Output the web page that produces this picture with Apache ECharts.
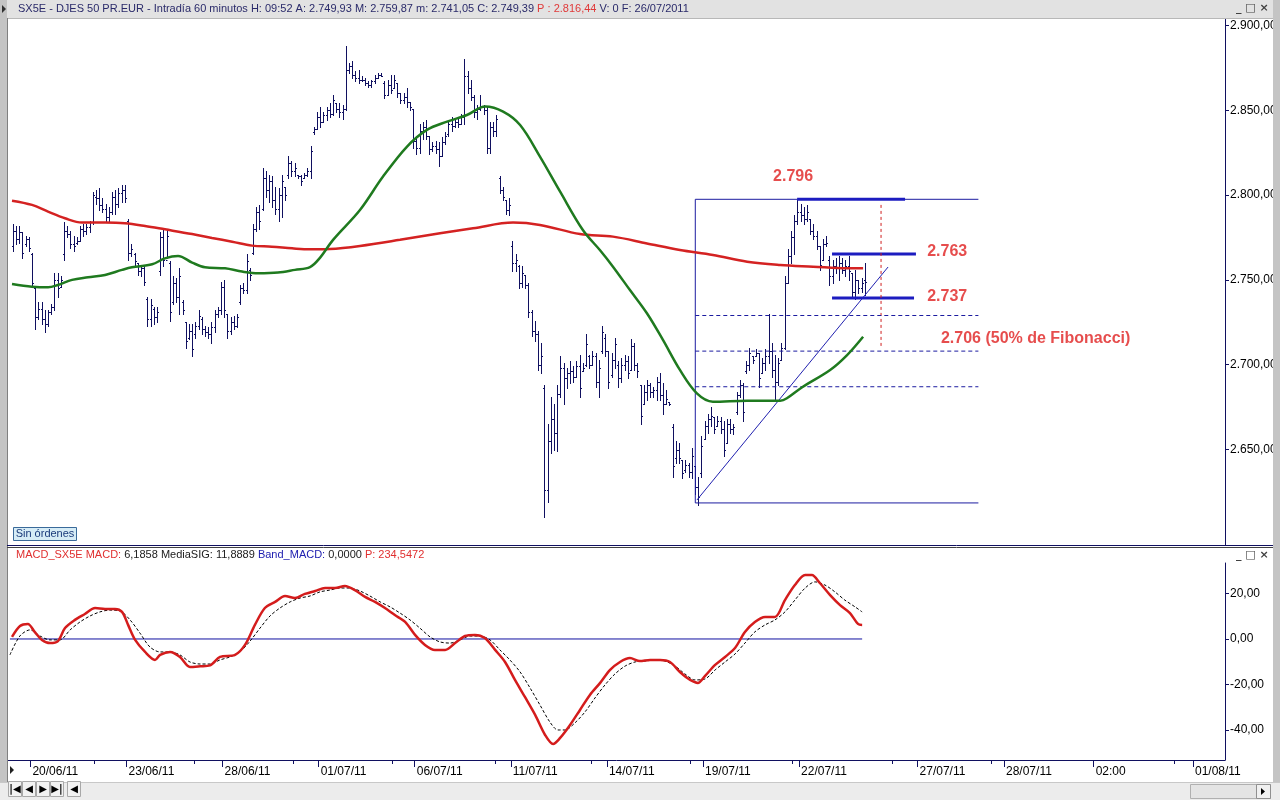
<!DOCTYPE html>
<html><head><meta charset="utf-8">
<script src="https://cdn.jsdelivr.net/npm/echarts/dist/echarts.min.js"></script>
<style>html,body{margin:0;padding:0;background:#fff}#c{width:1280px;height:800px}</style>
</head><body><div id="c"></div><script>
// ---------- DATA ----------
// hourly bars (10 per trading day), bar k is centred on time index k + 1.5
const opens = [2770,2779,2774,2778,2771,2774,2765,2745,2728,2733,
2727,2724,2731,2734,2750,2746,2765,2779,2777,2771,
2772,2773,2780,2779,2781,2784,2799,2798,2794,2792,
2787,2790,2799,2795,2801,2803,2785,2766,2765,2760,
2755,2757,2739,2727,2733,2728,2755,2775,2762,2760,
2737,2748,2740,2737,2725,2716,2720,2718,2723,2727,
2721,2719,2718,2722,2730,2732,2746,2730,2720,2725,
2723,2737,2745,2744,2756,2766,2780,2790,2792,2810,
2803,2808,2797,2792,2800,2805,2812,2819,2814,2812,
2811,2810,2812,2814,2837,2839,2846,2843,2847,2850,
2848,2854,2851,2849,2851,2874,2876,2871,2869,2868,
2868,2866,2865,2867,2869,2871,2866,2859,2865,2863,
2866,2860,2856,2858,2855,2851,2832,2828,2838,2840,
2835,2827,2829,2827,2823,2831,2836,2842,2841,2843,
2842,2846,2870,2863,2858,2849,2851,2852,2850,2828,
2840,2838,2810,2803,2797,2791,2770,2760,2758,2748,
2753,2747,2731,2720,2718,2700,2686,2626,2655,2668,
2660,2683,2698,2692,2695,2696,2693,2699,2696,2700,
2705,2700,2705,2690,2708,2716,2708,2694,2703,2700,
2692,2700,2702,2697,2711,2700,2688,2677,2684,2688,
2684,2685,2690,2682,2677,2678,2663,2645,2650,2644,
2638,2641,2637,2640,2628,2636,2656,2664,2668,2669,
2664,2667,2662,2654,2665,2662,2672,2682,2688,2696,
2700,2705,2705,2707,2695,2701,2705,2708,2697,2690,
2703,2710,2748,2764,2775,2785,2790,2788,2786,2786,
2779,2776,2770,2762,2771,2762,2752,2758,2757,2760,
2756,2758,2754,2743,2750,2745,2750];
const highs = [2783,2782,2782,2778,2776,2775,2766,2745,2737,2737,
2732,2732,2736,2754,2754,2752,2784,2782,2779,2776,
2775,2782,2783,2783,2785,2802,2803,2804,2798,2795,
2793,2802,2803,2804,2806,2806,2786,2771,2766,2760,
2759,2758,2740,2739,2734,2734,2778,2780,2780,2761,
2752,2751,2757,2738,2725,2724,2724,2725,2732,2728,
2723,2722,2725,2732,2734,2749,2750,2730,2728,2729,
2730,2747,2748,2765,2757,2783,2793,2794,2816,2814,
2812,2811,2805,2804,2812,2805,2823,2820,2819,2812,
2812,2813,2816,2829,2840,2849,2852,2849,2852,2854,
2859,2854,2854,2853,2888,2878,2879,2873,2874,2870,
2869,2867,2868,2871,2872,2872,2867,2868,2871,2871,
2866,2860,2860,2863,2855,2851,2835,2842,2843,2844,
2835,2831,2832,2831,2834,2837,2844,2846,2845,2845,
2848,2880,2873,2868,2859,2853,2859,2853,2852,2843,
2843,2847,2811,2805,2797,2798,2773,2765,2759,2758,
2753,2748,2732,2726,2720,2713,2688,2665,2681,2677,
2688,2705,2701,2698,2702,2699,2702,2706,2701,2718,
2706,2708,2707,2703,2723,2718,2708,2707,2716,2702,
2704,2706,2705,2715,2713,2701,2688,2688,2691,2689,
2687,2693,2695,2689,2685,2678,2665,2655,2654,2644,
2644,2642,2651,2640,2634,2658,2667,2671,2675,2669,
2670,2669,2667,2668,2668,2665,2684,2691,2689,2702,
2710,2705,2709,2707,2704,2709,2730,2713,2706,2704,
2713,2752,2768,2779,2788,2797,2795,2793,2794,2786,
2783,2779,2770,2774,2776,2764,2762,2763,2764,2763,
2762,2764,2754,2756,2750,2751,2760];
const lows = [2767,2771,2772,2763,2770,2767,2746,2721,2727,2724,
2719,2723,2730,2732,2740,2746,2762,2775,2769,2767,
2771,2773,2776,2777,2778,2783,2795,2791,2790,2784,
2784,2789,2789,2793,2796,2796,2762,2764,2759,2753,
2752,2747,2723,2723,2724,2725,2753,2758,2763,2726,
2736,2737,2730,2730,2710,2715,2705,2716,2721,2718,
2717,2716,2713,2719,2728,2730,2728,2716,2718,2721,
2722,2736,2742,2742,2750,2765,2779,2780,2791,2799,
2796,2793,2789,2785,2787,2797,2810,2811,2811,2810,
2806,2810,2811,2810,2836,2839,2840,2843,2844,2846,
2847,2849,2846,2845,2850,2872,2869,2867,2866,2867,
2865,2864,2864,2866,2869,2870,2857,2859,2860,2863,
2858,2854,2854,2852,2850,2828,2824,2825,2833,2833,
2824,2826,2825,2817,2823,2830,2835,2838,2840,2840,
2842,2842,2860,2856,2846,2845,2850,2848,2825,2825,
2835,2835,2801,2797,2789,2788,2755,2755,2745,2746,
2745,2728,2717,2714,2697,2695,2610,2619,2648,2650,
2649,2681,2677,2686,2689,2690,2693,2681,2696,2699,
2698,2700,2687,2681,2707,2705,2686,2693,2698,2687,
2690,2697,2692,2697,2697,2693,2665,2677,2679,2681,
2681,2679,2679,2671,2677,2676,2634,2642,2642,2633,
2637,2634,2633,2624,2617,2634,2656,2660,2664,2660,
2664,2660,2646,2654,2660,2659,2671,2681,2667,2695,
2697,2701,2705,2687,2695,2697,2701,2693,2679,2688,
2703,2709,2748,2760,2765,2783,2785,2783,2785,2777,
2774,2768,2756,2762,2770,2747,2748,2754,2750,2754,
2752,2750,2740,2739,2742,2743,2741];
const closes = [2779,2774,2778,2766,2774,2769,2748,2728,2733,2727,
2724,2731,2734,2750,2745,2750,2779,2777,2771,2770,
2773,2780,2779,2781,2784,2800,2798,2794,2792,2787,
2790,2799,2795,2801,2803,2798,2766,2768,2761,2755,
2757,2749,2727,2735,2728,2731,2775,2762,2776,2731,
2748,2740,2752,2732,2714,2720,2709,2723,2729,2721,
2719,2718,2722,2730,2732,2746,2732,2720,2725,2723,
2728,2745,2744,2761,2753,2780,2790,2785,2810,2803,
2808,2797,2792,2800,2808,2800,2819,2814,2816,2811,
2808,2812,2814,2826,2839,2846,2843,2847,2850,2848,
2856,2851,2849,2851,2874,2876,2871,2869,2868,2868,
2866,2865,2867,2869,2871,2870,2859,2865,2862,2868,
2860,2856,2858,2855,2852,2832,2828,2838,2840,2835,
2827,2829,2827,2823,2831,2835,2842,2841,2843,2842,
2846,2870,2863,2858,2849,2851,2852,2850,2828,2840,
2838,2845,2803,2799,2791,2794,2760,2762,2748,2754,
2747,2731,2720,2718,2700,2705,2626,2655,2668,2660,
2683,2698,2692,2695,2696,2693,2699,2686,2698,2712,
2700,2705,2690,2698,2719,2708,2690,2703,2712,2692,
2700,2702,2695,2711,2700,2696,2670,2684,2688,2684,
2685,2690,2682,2677,2680,2677,2640,2650,2645,2636,
2641,2637,2646,2628,2622,2652,2664,2668,2670,2662,
2667,2662,2650,2665,2662,2663,2682,2688,2672,2700,
2707,2703,2707,2692,2701,2705,2708,2697,2690,2701,
2710,2748,2764,2775,2785,2790,2788,2786,2790,2779,
2776,2770,2759,2771,2772,2752,2758,2757,2760,2756,
2758,2755,2743,2750,2745,2748,2749];

// moving averages: [time index, value]
const maSlow = [[1.25,2796.7],[7.5,2794.2],[12.5,2790.2],[17.8,2786.3],[23.1,2783.8],[30.3,2783.8],[36.5,2783.4],[42.8,2781.8],[49,2779.8],[57.5,2777],[63.7,2774.7],[70,2772.5],[76.2,2770.2],[82.4,2769.6],[88.7,2768.6],[94.3,2768],[100.5,2768.2],[109.9,2770],[122.4,2773.6],[134.9,2777.5],[145.2,2780.4],[157.7,2783.8],[166.1,2782.4],[178.6,2777],[188.9,2775.5],[199.5,2771.5],[209.8,2767.6],[220.1,2764.7],[230.8,2760.7],[241.1,2758.8],[251.4,2757.8],[262,2756.8],[267,2756.8]];
const maFast = [[1.25,2747.6],[7.5,2746],[12.5,2745.6],[15.6,2747],[20,2750],[25,2751.5],[30.3,2752.9],[35.6,2755.9],[38.7,2757.4],[45,2759.2],[49,2762.7],[53.1,2764.1],[57.5,2760.2],[61.5,2757.4],[67.8,2756.8],[73.1,2754.9],[78.1,2753.9],[84.3,2754.3],[89.6,2755.9],[94.3,2757.5],[97.4,2763],[101.5,2773.6],[109.9,2791.2],[117.1,2810.9],[124.6,2828.6],[130.8,2838.4],[137.1,2843.3],[143.3,2847.2],[149,2852.2],[154.6,2849.2],[159.9,2841.3],[166.1,2822.7],[172.4,2802],[179.5,2779.4],[184.8,2767.6],[188.9,2757.8],[194.2,2744],[199.5,2730.3],[204.5,2714.6],[209.8,2696.9],[215.1,2683.1],[220.1,2678.2],[230.8,2678.8],[241.1,2678.8],[243.2,2680.2],[248.2,2687],[256.7,2696.9],[262,2705.7],[267,2716.5]];

// MACD panel: [time index, value]
const macdLine = [[1.25,0.9],[3.75,5.7],[6.2,6.6],[8.4,3],[10.6,-0.4],[13.1,-1.8],[15.6,-0.9],[17.8,4.8],[20.9,8.4],[24,11],[27.2,13.6],[30.3,13.2],[33.4,13.2],[35.6,11.9],[37.5,6.2],[39.7,-0.4],[42.8,-5.7],[45.9,-9.2],[47.5,-7],[50.6,-5.7],[53.7,-7.9],[56.8,-12.3],[60,-12],[63.1,-11.6],[66.2,-7.9],[70.9,-7],[74,-2.6],[77.1,6.2],[80.2,13.6],[83.4,16.3],[86.5,18.9],[89.6,18],[92.7,19.8],[95.9,21.1],[99,22.4],[102.1,22.4],[105.2,23.3],[108.3,21.5],[111.5,18.5],[114.6,16.3],[117.7,13.6],[120.8,10.5],[124,7.5],[127.1,1.8],[130.2,-2.6],[133.3,-4.8],[136.5,-4.8],[139.6,-1.8],[142.7,1.3],[145.8,1.8],[148.9,0.4],[152.1,-4.8],[155.2,-10.1],[158.3,-18],[161.4,-25.5],[164.6,-33.4],[167.7,-42.2],[170.2,-46.2],[172.4,-43.5],[175.5,-37.8],[178.6,-31.2],[181.7,-24.6],[184.9,-19.3],[188,-13.6],[191.1,-10.1],[194.2,-8.4],[197.3,-9.7],[200.5,-9.2],[203.6,-9.2],[206.7,-10.1],[209.8,-14.5],[213,-18],[215.4,-19.3],[217.6,-16.3],[220.8,-11.4],[223.9,-7.9],[227,-4],[230.1,3.1],[233.2,7.5],[236.4,9.7],[239.5,9.7],[242.6,17.1],[245.7,23.7],[248.9,28.1],[251,28.1],[253.5,24.6],[256.7,19.3],[259.8,14.9],[262.9,11.4],[265.4,6.6],[266.7,6.2]];
const macdSignal = [[0.6,-7],[3.7,1.3],[6.9,4],[10,1.3],[13.1,-0.4],[16.2,-0.4],[19.4,4],[22.5,7.5],[25.6,10.1],[28.7,11.9],[31.8,12.7],[35,12.3],[38.1,8.4],[41.2,2.6],[44.3,-3.5],[47.5,-5.7],[50.6,-5.7],[53.7,-7],[56.8,-10.1],[60,-11],[63.1,-11],[66.2,-9.2],[69.3,-7.9],[72.4,-5.7],[75.6,-0.9],[78.7,4.8],[81.8,10.1],[84.9,13.6],[88.1,16.3],[91.2,18],[94.3,18.9],[97.4,20.7],[100.5,21.5],[103.7,22.4],[106.8,22.4],[109.9,21.1],[113,18.9],[116.2,16.3],[119.3,14.1],[122.4,11.4],[125.5,8.4],[128.6,4.8],[131.8,0.9],[134.9,-1.3],[138,-1.8],[141.1,-0.4],[144.3,1.3],[147.4,1.3],[150.5,-0.4],[153.6,-4.8],[156.7,-9.2],[159.9,-14.5],[163,-21.5],[166.1,-29],[169.2,-36.5],[171.7,-40],[173.9,-40],[177,-36.9],[180.2,-32],[183.3,-25.9],[186.4,-20.2],[189.5,-15.4],[192.7,-11.9],[195.8,-10.1],[198.9,-9.7],[202,-9.2],[205.1,-9.7],[208.3,-11.9],[211.4,-15.4],[214.5,-18],[217.6,-17.6],[220.8,-13.6],[223.9,-10.1],[227,-6.6],[230.1,-1.8],[233.2,3.1],[236.4,6.2],[239.5,8.4],[242.6,11.9],[245.7,17.1],[248.9,22.4],[252,25.1],[255.1,23.7],[258.2,20.7],[261.3,17.1],[264.5,14.1],[266.7,11.9]];
const macdBand = [[0.6,0],[266.7,0]];

// x axis tick labels (time index of each tick)
const dateTickPos = [7,37,67,97,127,157,187,217,247,284,311,339,370];
const dateLabels = ['20/06/11','23/06/11','28/06/11','01/07/11','06/07/11','11/07/11','14/07/11','19/07/11','22/07/11','27/07/11','28/07/11','02:00','01/08/11'];
const minorTickPos = [27,58,89,120,152,182,213,245,276,307,364];
const priceTicks = [2650,2700,2750,2800,2850,2900];
const macdTicks = [-40,-20,0,20];

// hand-drawn analysis (in data units)
const boxLeft = 214.6, boxRight = 303;
const swingHigh = 2797.5, swingLow = 2618.5;
const fibLevels = [2729, 2708, 2687];
const trendLine = [[215.1,2620.2],[274.8,2757.6]];
const resist = [[246.4,2797.5],[280.1,2797.5]];
const level2763 = [[257.3,2765.3],[283.5,2765.3]];
const level2737 = [[257.3,2739.3],[282.9,2739.3]];
const targetLine = [[272.6,2794.2],[272.6,2710.4]];
const noteTexts = ['2.796','2.763','2.737','2.706 (50% de Fibonacci)'];
const notePos = [[238.9,2810.7],[287,2766.5],[287,2740],[291.3,2715.2]];

// ---------- CHART ----------
const NAVY = '#101060';
const fmtPrice = v => { const s = String(Math.round(v)); return s[0] + '.' + s.slice(1) + ',00'; };
const fmtMacd = v => (Math.abs(v) < 1e-9 ? 0 : v).toFixed(2).replace('.', ',');
const FONT = 'Liberation Sans, Arial, sans-serif';

const bars = opens.map((o, k) => [k + 1.5, o, highs[k], lows[k], closes[k]]);

function renderBar(params, api) {
  const x = api.value(0);
  const pH = api.coord([x, api.value(2)]);
  const pL = api.coord([x, api.value(3)]);
  const pO = api.coord([x, api.value(1)]);
  const pC = api.coord([x, api.value(4)]);
  const cx = Math.round(pH[0]) + 0.5;
  const st = { stroke: NAVY, lineWidth: 1 };
  return { type: 'group', children: [
    { type: 'line', shape: { x1: cx, y1: Math.round(pH[1]), x2: cx, y2: Math.round(pL[1]) + 1 }, style: st },
    { type: 'line', shape: { x1: cx - 1.5, y1: Math.round(pO[1]) + 0.5, x2: cx, y2: Math.round(pO[1]) + 0.5 }, style: st },
    { type: 'line', shape: { x1: cx, y1: Math.round(pC[1]) + 0.5, x2: cx + 1.5, y2: Math.round(pC[1]) + 0.5 }, style: st }
  ]};
}

function seg(data, color, width, type) {
  return { type: 'line', xAxisIndex: 0, yAxisIndex: 0, data: data, symbol: 'none', silent: true,
    lineStyle: { color: color, width: width, type: type || 'solid' }, animation: false, z: 4 };
}

const annSeries = [
  seg([[boxLeft, swingLow], [boxLeft, swingHigh], [boxRight, swingHigh]], '#1c1ca0', 1),
  seg([[boxLeft, swingLow], [boxRight, swingLow]], '#1c1ca0', 1),
  seg(trendLine, '#2020b0', 1),
  seg(resist, '#1c1cc0', 3),
  seg(level2763, '#1c1cc0', 3),
  seg(level2737, '#1c1cc0', 3),
  seg(targetLine, '#d02020', 1, [3, 3])
].concat(fibLevels.map(f => seg([[boxLeft, f], [boxRight, f]], '#1c1ca0', 1, [4, 3])));

// navigation buttons in the bottom bar
const navGlyphs = ['|◀', '◀', '▶', '▶|', '◀'];
const navGraphics = [];
navGlyphs.forEach((g, i) => {
  const bx = 8.5 + i * 14 + (i === 4 ? 3 : 0);
  navGraphics.push({ type: 'rect', shape: { x: bx, y: 781.5, width: 13, height: 15 }, style: { fill: '#f2f2f2', stroke: '#a8a8a8' }, z: 51 });
  navGraphics.push({ type: 'text', x: bx + 6.5, y: 789, z: 52, style: { text: g, align: 'center', verticalAlign: 'middle', font: 'bold 10px DejaVu Sans', fill: '#000' } });
});

const chart = echarts.init(document.getElementById('c'), null, { renderer: 'canvas' });
chart.setOption({
  animation: false,
  backgroundColor: '#ffffff',
  textStyle: { fontFamily: FONT },
  grid: [
    { left: 8, width: 1217, top: 19, height: 526 },
    { left: 8, width: 1217, top: 563, height: 197 }
  ],
  xAxis: [
    { type: 'value', gridIndex: 0, min: 0, max: 380, show: false },
    { type: 'value', gridIndex: 1, min: 0, max: 380, position: 'bottom',
      axisLine: { show: true, onZero: false, lineStyle: { color: NAVY, width: 1 } },
      axisTick: { show: true, length: 7, customValues: dateTickPos, lineStyle: { color: NAVY } },
      axisLabel: { show: true, customValues: dateTickPos, align: 'left', margin: 6, padding: [0, 0, 0, 2],
        color: '#000', fontSize: 12, fontFamily: FONT,
        formatter: v => { let b = 0; dateTickPos.forEach((p, i) => { if (Math.abs(p - v) < Math.abs(dateTickPos[b] - v)) b = i; }); return dateLabels[b]; } },
      splitLine: { show: false } },
    { type: 'value', gridIndex: 1, min: 0, max: 380, position: 'bottom',
      axisLine: { show: false, onZero: false },
      axisTick: { show: true, length: 4, customValues: minorTickPos, lineStyle: { color: NAVY } },
      axisLabel: { show: false }, splitLine: { show: false } }
  ],
  yAxis: [
    { type: 'value', gridIndex: 0, position: 'right', min: 2593.7, max: 2903.8,
      axisLine: { show: true, onZero: false, lineStyle: { color: NAVY } },
      axisTick: { show: true, length: 4, customValues: priceTicks, lineStyle: { color: NAVY } },
      axisLabel: { show: true, customValues: priceTicks, margin: 5, color: '#000', fontSize: 12, fontFamily: FONT, formatter: fmtPrice },
      splitLine: { show: false } },
    { type: 'value', gridIndex: 1, position: 'right', min: -53.2, max: 33.4,
      axisLine: { show: true, onZero: false, lineStyle: { color: NAVY } },
      axisTick: { show: true, length: 4, customValues: macdTicks, lineStyle: { color: NAVY } },
      axisLabel: { show: true, customValues: macdTicks, margin: 5, color: '#000', fontSize: 12, fontFamily: FONT, formatter: fmtMacd },
      splitLine: { show: false } }
  ],
  series: [
    { type: 'custom', xAxisIndex: 0, yAxisIndex: 0, data: bars, renderItem: renderBar,
      encode: { x: 0, y: [1, 2, 3, 4] }, silent: true, z: 3 },
    { type: 'line', xAxisIndex: 0, yAxisIndex: 0, data: maSlow, smooth: 0.35, symbol: 'none', silent: true,
      lineStyle: { color: '#d42222', width: 2.5 }, z: 5 },
    { type: 'line', xAxisIndex: 0, yAxisIndex: 0, data: maFast, smooth: 0.35, symbol: 'none', silent: true,
      lineStyle: { color: '#1f7a1f', width: 2.5 }, z: 5 },
    ...annSeries,
    { type: 'scatter', xAxisIndex: 0, yAxisIndex: 0, symbolSize: 0, silent: true, z: 6,
      data: notePos.map((p, i) => ({ value: p, name: noteTexts[i] })),
      label: { show: true, position: 'right', distance: 0, formatter: p => p.name,
        color: '#e02020', fontSize: 16, fontWeight: 'bold', fontFamily: FONT } },
    { type: 'line', xAxisIndex: 1, yAxisIndex: 1, data: macdBand, symbol: 'none', silent: true,
      lineStyle: { color: '#1010a0', width: 1 }, z: 3 },
    { type: 'line', xAxisIndex: 1, yAxisIndex: 1, data: macdSignal, smooth: 0.3, symbol: 'none', silent: true,
      lineStyle: { color: '#000', width: 1, type: [3, 2] }, z: 4 },
    { type: 'line', xAxisIndex: 1, yAxisIndex: 1, data: macdLine, smooth: 0.3, symbol: 'none', silent: true,
      lineStyle: { color: '#d41c1c', width: 2.5 }, z: 5 }
  ],
  graphic: [
    // window chrome
    { type: 'rect', shape: { x: 0, y: 0, width: 1280, height: 18 }, style: { fill: '#e2e2e2' }, z: 50 },
    { type: 'line', shape: { x1: 0, y1: 18.5, x2: 1280, y2: 18.5 }, style: { stroke: '#b8b8b8' }, z: 50 },
    { type: 'rect', shape: { x: 0, y: 0, width: 7, height: 800 }, style: { fill: '#c4c4c4' }, z: 50 },
    { type: 'line', shape: { x1: 7.5, y1: 18, x2: 7.5, y2: 782 }, style: { stroke: '#808080' }, z: 50 },
    { type: 'rect', shape: { x: 1273, y: 0, width: 7, height: 800 }, style: { fill: '#c4c4c4' }, z: 50 },
    { type: 'rect', shape: { x: 0, y: 782, width: 1280, height: 18 }, style: { fill: '#ececec' }, z: 50 },
    { type: 'line', shape: { x1: 0, y1: 782.5, x2: 1280, y2: 782.5 }, style: { stroke: '#c8c8c8' }, z: 50 },
    { type: 'line', shape: { x1: 7, y1: 545.5, x2: 1273, y2: 545.5 }, style: { stroke: NAVY }, z: 50 },
    { type: 'line', shape: { x1: 7, y1: 547.5, x2: 1273, y2: 547.5 }, style: { stroke: '#404040' }, z: 50 },
    { type: 'polygon', shape: { points: [[2, 5], [6, 9], [2, 13]] }, style: { fill: '#303030' }, z: 51 },
    { type: 'text', x: 18, y: 9, z: 51, style: { text: '{a|SX5E - DJES 50 PR.EUR - Intradía 60 minutos H: 09:52 A: 2.749,93 M: 2.759,87 m: 2.741,05 C: 2.749,39 }{r|P : 2.816,44}{a| V: 0 F: 26/07/2011}',
      verticalAlign: 'middle', font: '11px ' + FONT, rich: { a: { fill: '#2a2a6a', font: '11px ' + FONT }, r: { fill: '#e03a3a', font: '11px ' + FONT } } } },
    { type: 'text', x: 1236, y: 8, z: 51, style: { text: '_ □ ×', verticalAlign: 'middle', font: 'bold 11px DejaVu Sans', fill: '#404040' } },
    { type: 'text', x: 1236, y: 555, z: 51, style: { text: '_ □ ×', verticalAlign: 'middle', font: 'bold 11px DejaVu Sans', fill: '#404040' } },
    { type: 'text', x: 16, y: 555, z: 51, style: { text: '{r|MACD_SX5E MACD: }{k|6,1858 MediaSIG: 11,8889 }{b|Band_MACD: }{k|0,0000 }{r|P: 234,5472}',
      verticalAlign: 'middle', font: '11px ' + FONT, rich: { r: { fill: '#e03030', font: '11px ' + FONT }, k: { fill: '#202020', font: '11px ' + FONT }, b: { fill: '#2020b0', font: '11px ' + FONT } } } },
    // "Sin órdenes" button
    { type: 'rect', shape: { x: 13.5, y: 527.5, width: 63, height: 13 }, style: { fill: '#d6ecf6', stroke: '#3a6a9a' }, z: 51 },
    { type: 'text', x: 45, y: 534, z: 52, style: { text: 'Sin órdenes', align: 'center', verticalAlign: 'middle', font: '11px ' + FONT, fill: '#1a3a7a' } },
    // navigation
    { type: 'polygon', shape: { points: [[10, 766], [14, 770], [10, 774]] }, style: { fill: '#202020' }, z: 51 },
    ...navGraphics,
    { type: 'rect', shape: { x: 1190.5, y: 784.5, width: 80, height: 14 }, style: { fill: '#e4e4e4', stroke: '#b0b0b0' }, z: 51 },
    { type: 'rect', shape: { x: 1256.5, y: 784.5, width: 14, height: 14 }, style: { fill: '#f0f0f0', stroke: '#909090' }, z: 52 },
    { type: 'polygon', shape: { points: [[1261, 788], [1265, 791.5], [1261, 795]] }, style: { fill: '#000' }, z: 53 }
  ]
});
</script></body></html>
